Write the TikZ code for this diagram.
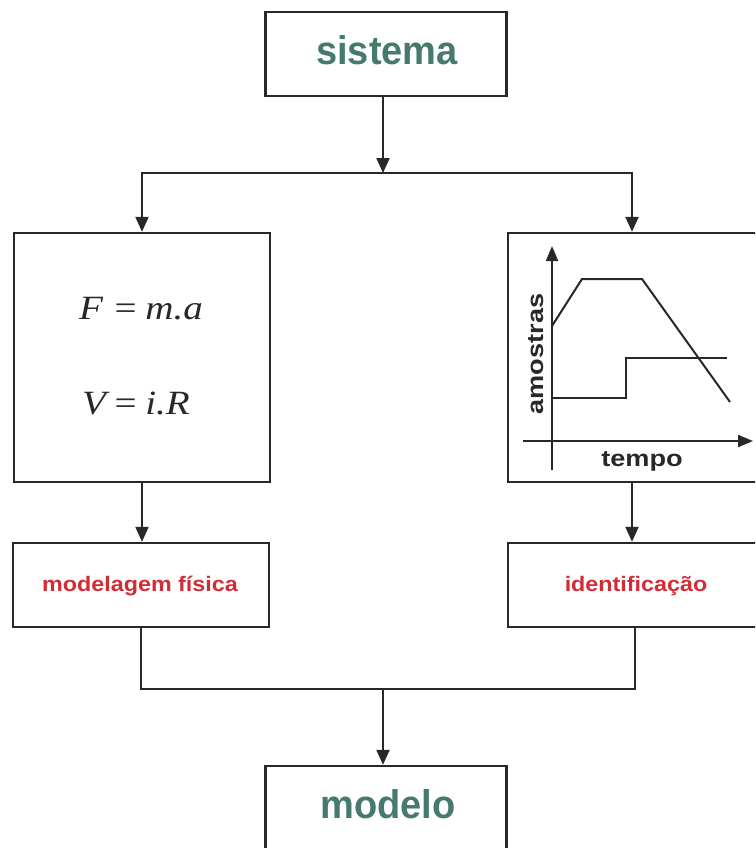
\documentclass[tikz,border=0pt]{standalone}
\usepackage{fontspec}
\usepackage{graphicx}
\setmainfont{Liberation Serif}
\setsansfont{Liberation Sans}
\usetikzlibrary{arrows.meta}
\definecolor{tealtxt}{RGB}{70,122,110}
\definecolor{redtxt}{RGB}{212,44,54}
\definecolor{ink}{RGB}{40,40,40}
\newcommand{\titletxt}[1]{\fontsize{40}{40}\selectfont\sffamily\bfseries\color{tealtxt}\scalebox{0.95}[1]{#1}}
\newcommand{\stagetxt}[1]{\fontsize{21}{21}\selectfont\sffamily\bfseries\color{redtxt}\scalebox{1.11}[1]{#1}}
\newcommand{\axistxt}[1]{\fontsize{23}{23}\selectfont\sffamily\bfseries\color{ink}\scalebox{1.18}[1]{#1}}
\newcommand{\eqtxt}[1]{\fontsize{34}{34}\selectfont\color{ink}\scalebox{1.15}[1]{#1}}
\begin{document}
\begin{tikzpicture}[x=1pt,y=-1pt,
  box/.style={draw=ink,line width=2.4pt,fill=white,inner sep=0pt},
  link/.style={draw=ink,line width=2.2pt},
  flow/.style={link,-{Triangle[length=15pt,width=13pt]}},
  plot/.style={draw=ink,line width=2pt},
  axis/.style={draw=ink,line width=2pt,-{Triangle[length=15pt,width=12pt]}}]
\fill[white] (0,0) rectangle (755,848);
\useasboundingbox (0,0) rectangle (755,848);
\clip (0,0) rectangle (755,848);

% blocks
\node[box,minimum width=241pt,minimum height=84pt] (sis) at (386,54) {};
\node[anchor=base] (sislbl) at (387,65) {\titletxt{sistema}};
\node[box,minimum width=256pt,minimum height=249pt] (phys) at (142,357.5) {};
\node[box,minimum width=254pt,minimum height=249pt] (graph) at (635,357.5) {};
\node[box,minimum width=256pt,minimum height=84pt] (mod) at (141,585) {};
\node[anchor=base] (modlbl) at (140,591) {\stagetxt{modelagem física}};
\node[box,minimum width=254pt,minimum height=84pt] (ident) at (635,585) {};
\node[anchor=base] (identlbl) at (636,591) {\stagetxt{identificação}};
\node[box,minimum width=241pt,minimum height=84pt] (modelo) at (386,808) {};
\node[anchor=base] (modelolbl) at (388,818) {\titletxt{modelo}};

% physical laws
\node[anchor=base] (eqF) at (141,319) {\eqtxt{\itshape F\hspace{0.3em}\upshape=\hspace{0.22em}\itshape m.a}};
\node[anchor=base] (eqV) at (136,414) {\eqtxt{\itshape V\hspace{0.22em}\upshape=\hspace{0.22em}\itshape i.R}};

% sampled data sketch
\coordinate (yb) at (552,470);
\coordinate (yt) at (552,246);
\coordinate (xl) at (523,441);
\coordinate (xr) at (753,441);
\draw[axis] (yb) -- (yt);
\draw[axis] (xl) -- (xr);
\draw[plot] (552,326) -- (582,279) -- (642,279) -- (730,402);
\draw[plot] (552,398) -- (626,398) -- (626,358) -- (727,358);
\node[anchor=base,rotate=90] (ylbl) at (543,354) {\axistxt{amostras}};
\node[anchor=base] (xlbl) at (642,466) {\axistxt{tempo}};

% connectors
\coordinate (split) at (383,173);
\coordinate (join) at (383,689);
\draw[flow] (split |- sis.south) -- (split);
\draw[flow] (split) -| (phys.north);
\draw[flow] (split) -| ([xshift=-3pt]graph.north);
\draw[flow] (phys.south) -- (mod.north -| phys.south);
\draw[flow] ([xshift=-3pt]graph.south) -- ([xshift=-3pt]ident.north);
\draw[link] (mod.south) |- (join) -| (ident.south);
\draw[flow] (join) -- (join |- modelo.north);
\end{tikzpicture}
\end{document}
